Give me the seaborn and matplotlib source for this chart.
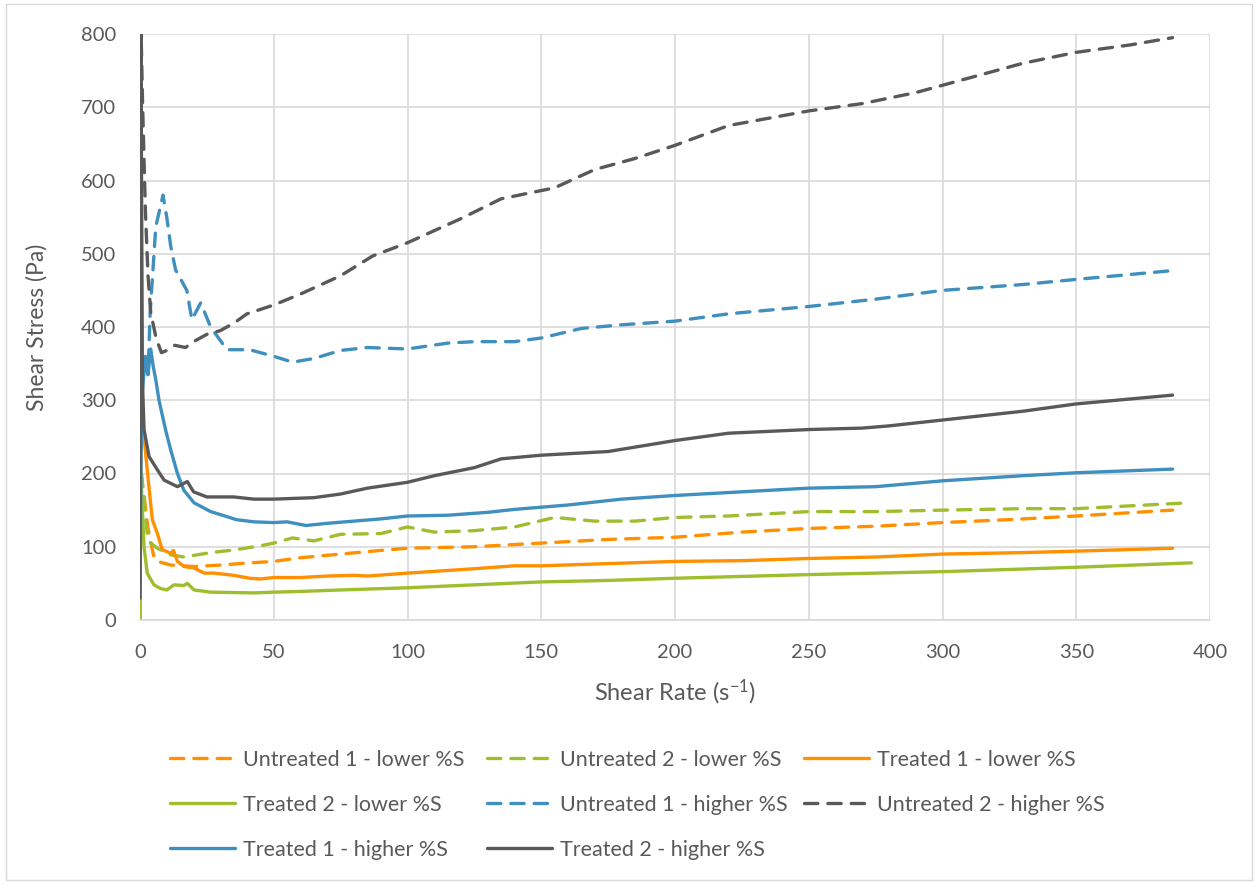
import matplotlib
matplotlib.use("Agg")
import matplotlib.pyplot as plt
import seaborn as sns
import pandas as pd
from matplotlib.lines import Line2D
from matplotlib.patches import Rectangle

# Flow curves: shear rate (1/s) vs shear stress (Pa)
u1_low_x = [0.5, 1.5, 3, 5.2, 6.5, 11.5, 20, 30, 41, 50, 60, 75, 90, 100, 125, 150, 175, 200, 225, 250, 275, 300, 325, 350, 386]
u1_low_y = [200, 170, 125, 86, 80, 75, 73, 75, 78, 80, 85, 90, 95, 98, 100, 105, 110, 113, 120, 125, 128, 133, 137, 142, 150]

u2_low_x = [0.5, 1.5, 2.7, 4, 6.5, 11.5, 16.4, 26.4, 36, 46, 50, 57, 65, 75, 90, 100, 110, 125, 140, 155, 170, 185, 200, 220, 250, 275, 300, 330, 350, 392]
u2_low_y = [200, 160, 118, 105, 98, 89, 86, 92, 96, 102, 105, 112, 108, 117, 118, 127, 120, 122, 127, 140, 135, 135, 140, 142, 148, 148, 150, 152, 152, 160]

t1_low_x = [0, 0.4, 0.9, 2.7, 4.6, 6.5, 8.3, 11.5, 12.5, 14, 16.4, 20.2, 24, 27.7, 35, 41, 45, 50, 60, 70, 80, 85, 100, 125, 140, 150, 175, 200, 225, 250, 275, 300, 330, 350, 386]
t1_low_y = [0, 290, 273, 205, 137, 118, 96, 91, 95, 80, 73, 71, 64, 64, 61, 57, 56, 58, 58, 60, 61, 60, 64, 70, 74, 74, 77, 80, 81, 84, 86, 90, 92, 94, 98]

t2_low_x = [0, 0.3, 0.9, 1.5, 2.7, 5.2, 7.7, 10, 12.7, 16.4, 17.7, 20.2, 26.4, 42.6, 50, 60, 75, 100, 125, 150, 175, 200, 250, 300, 350, 393]
t2_low_y = [0, 200, 150, 100, 64, 48, 43, 41, 48, 47, 50, 41, 38, 37, 38, 39, 41, 44, 48, 52, 54, 57, 62, 66, 72, 78]

u1_high_x = [1.5, 3, 3.8, 5.9, 8.6, 10, 11.5, 13.3, 17.5, 19.4, 22.7, 26.4, 32.5, 41, 50, 57, 65, 75, 85, 100, 115, 125, 140, 150, 165, 180, 200, 220, 250, 275, 300, 330, 350, 386]
u1_high_y = [350, 335, 420, 537, 580, 550, 510, 478, 450, 410, 433, 400, 369, 369, 360, 352, 357, 368, 372, 370, 378, 380, 380, 385, 398, 403, 408, 418, 428, 438, 450, 458, 465, 477]

u2_high_x = [0.3, 1, 2, 3, 4, 6, 8, 10, 13, 17, 20, 25, 30, 35, 40, 50, 60, 75, 87, 100, 120, 135, 155, 170, 185, 200, 220, 235, 250, 270, 290, 310, 330, 350, 370, 386]
u2_high_y = [820, 700, 560, 470, 420, 385, 365, 368, 375, 372, 380, 390, 395, 405, 418, 430, 445, 470, 497, 515, 548, 575, 590, 615, 630, 648, 675, 685, 695, 705, 720, 740, 760, 775, 785, 795]

t1_high_x = [0, 0.6, 2, 3, 4, 5, 5.9, 7.1, 9.6, 11.5, 14, 16.4, 20.2, 26.4, 32.6, 36, 42.6, 50, 55, 62, 70, 80, 90, 100, 115, 130, 140, 160, 180, 200, 220, 250, 275, 300, 330, 350, 386]
t1_high_y = [50, 300, 360, 335, 370, 345, 328, 300, 259, 232, 200, 177, 160, 148, 141, 137, 134, 133, 134, 129, 132, 135, 138, 142, 143, 147, 151, 157, 165, 170, 174, 180, 182, 190, 197, 201, 206]

t2_high_x = [0, 0.3, 0.9, 1.5, 3.4, 6.5, 9, 14, 17.7, 20, 25, 35, 42.6, 50, 65, 75, 85, 100, 110, 125, 135, 150, 175, 200, 220, 250, 270, 280, 300, 330, 350, 386]
t2_high_y = [30, 820, 328, 260, 223, 205, 191, 182, 189, 175, 168, 168, 165, 165, 167, 172, 180, 188, 197, 208, 220, 225, 230, 245, 255, 260, 262, 265, 273, 285, 295, 307]

labels = [
    "Untreated 1 - lower %S", "Untreated 2 - lower %S", "Treated 1 - lower %S",
    "Treated 2 - lower %S", "Untreated 1 - higher %S", "Untreated 2 - higher %S",
    "Treated 1 - higher %S", "Treated 2 - higher %S",
]
xs = [u1_low_x, u2_low_x, t1_low_x, t2_low_x, u1_high_x, u2_high_x, t1_high_x, t2_high_x]
ys = [u1_low_y, u2_low_y, t1_low_y, t2_low_y, u1_high_y, u2_high_y, t1_high_y, t2_high_y]

ORANGE = "#FF9000"
GREEN = "#9FBE2E"
BLUE = "#3F8FBF"
GRAY = "#595959"
TEXT = "#595959"
colors = [ORANGE, GREEN, ORANGE, GREEN, BLUE, GRAY, BLUE, GRAY]
dashed = [True, True, False, False, True, True, False, False]

sns.set_theme(style="whitegrid")
plt.rcParams["font.family"] = ["Lato", "DejaVu Sans"]
plt.rcParams["mathtext.fontset"] = "custom"
plt.rcParams["mathtext.rm"] = "Lato"
plt.rcParams["mathtext.it"] = "Lato"

W, H = 1258, 884
fig = plt.figure(figsize=(W / 100, H / 100), dpi=100)
ax = fig.add_axes([140 / W, 1 - 620 / H, (1210 - 140) / W, (620 - 34) / H])

LW = 2.4
DASH = (4, 3)
handles = []
for lab, x, y, c, d in zip(labels, xs, ys, colors, dashed):
    df = pd.DataFrame({"rate": x, "stress": y})
    sns.lineplot(data=df, x="rate", y="stress", ax=ax, color=c, linewidth=LW,
                 sort=False, estimator=None, legend=False)
    ln = ax.lines[-1]
    if d:
        ln.set_dashes(DASH)
    ln.set_solid_capstyle("round")
    ln.set_dash_capstyle("round")
    h = Line2D([0], [0], color=c, linewidth=LW, solid_capstyle="round", dash_capstyle="round")
    if d:
        h.set_dashes(DASH)
    handles.append(h)

ax.set_xlim(0, 400)
ax.set_ylim(0, 800)
ax.set_xticks(range(0, 401, 50))
ax.set_yticks(range(0, 801, 100))
ax.grid(True, color="#D9D9D9", linewidth=1.2)
for s in ["top", "right", "left"]:
    ax.spines[s].set_visible(False)
ax.spines["bottom"].set_color("#D9D9D9")
ax.spines["bottom"].set_linewidth(1.2)
ax.tick_params(axis="both", length=0, labelsize=14.5, labelcolor=TEXT)
ax.tick_params(axis="x", pad=17)
ax.tick_params(axis="y", pad=17)
ax.set_xlabel("Shear Rate (s$^{-1}$)", fontsize=17, color=TEXT, labelpad=12)
ax.set_ylabel("Shear Stress (Pa)", fontsize=16.5, color=TEXT, labelpad=24)
ax.set_facecolor("white")

# legend: three fixed-width columns, filled row by row
col_x = [170, 487, 804]
row_y = [760, 805, 850]
for i, (h, lab) in enumerate(zip(handles, labels)):
    r, c = divmod(i, 3)
    leg = fig.legend([h], [lab], loc="center left",
                     bbox_to_anchor=(col_x[c] / W, 1 - row_y[r] / H),
                     frameon=False, fontsize=15.5, handlelength=3.0,
                     handletextpad=0.4, borderpad=0, borderaxespad=0)
    for t in leg.get_texts():
        t.set_color(TEXT)

fig.patches.append(Rectangle((6 / W, 4 / H), 1 - 12 / W, 1 - 8 / H,
                             transform=fig.transFigure, fill=False,
                             edgecolor="#D9D9D9", linewidth=1.0))

fig.savefig("out.png", dpi=100, facecolor="white")
